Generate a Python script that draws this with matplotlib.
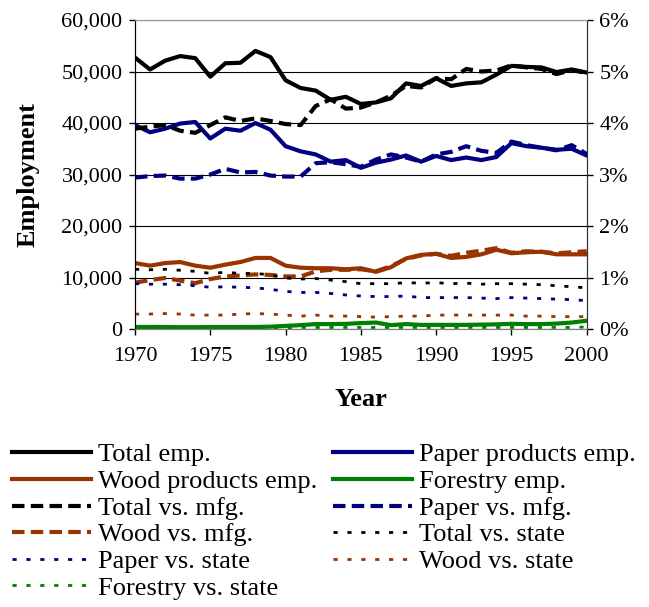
import numpy as np
import matplotlib
matplotlib.use('Agg')
import matplotlib.pyplot as plt
from matplotlib.ticker import FuncFormatter

plt.rcParams['font.family'] = ['Liberation Serif', 'DejaVu Serif']

years = list(range(1970, 2001))

# employment (left axis)
total_emp = [52700, 50400, 52100, 53000, 52600, 49000, 51600, 51700, 54000, 52800,
             48300, 46800, 46300, 44500, 45100, 43700, 44000, 44800, 47700, 47200,
             48700, 47200, 47700, 47900, 49400, 51100, 50900, 50800, 49900, 50400, 49800]
paper_emp = [39600, 38200, 38900, 39900, 40200, 37000, 38900, 38500, 40000, 38700,
             35500, 34500, 33900, 32500, 32800, 31300, 32300, 32900, 33700, 32500,
             33600, 32800, 33300, 32800, 33400, 36100, 35500, 35200, 34800, 35000, 33700]
wood_emp = [12800, 12300, 12800, 13000, 12300, 11900, 12500, 13000, 13800, 13800,
            12300, 11900, 11800, 11800, 11600, 11800, 11100, 12000, 13700, 14400,
            14600, 13800, 14000, 14500, 15400, 14700, 14900, 15000, 14500, 14500, 14500]
forestry_emp = [400, 400, 380, 350, 350, 380, 380, 380, 400, 450,
                600, 750, 950, 950, 1000, 1150, 1250, 750, 950, 800,
                800, 800, 800, 850, 900, 1000, 950, 950, 1050, 1250, 1600]

# shares in percent (right axis)
total_vs_mfg = [3.89, 3.93, 3.96, 3.85, 3.81, 3.96, 4.11, 4.04, 4.09, 4.04,
                3.98, 3.96, 4.33, 4.46, 4.28, 4.30, 4.40, 4.53, 4.72, 4.69,
                4.87, 4.85, 5.05, 5.00, 5.02, 5.12, 5.08, 5.05, 4.95, 5.03, 4.97]
paper_vs_mfg = [2.94, 2.97, 2.98, 2.92, 2.92, 3.00, 3.11, 3.04, 3.05, 2.98,
                2.96, 2.96, 3.22, 3.24, 3.20, 3.15, 3.29, 3.39, 3.33, 3.25,
                3.39, 3.44, 3.55, 3.46, 3.42, 3.64, 3.57, 3.52, 3.47, 3.57, 3.40]
wood_vs_mfg = [0.90, 0.95, 0.99, 0.94, 0.89, 0.97, 1.02, 1.04, 1.06, 1.05,
               1.02, 1.02, 1.12, 1.15, 1.15, 1.16, 1.12, 1.22, 1.36, 1.43,
               1.46, 1.42, 1.48, 1.52, 1.57, 1.48, 1.51, 1.50, 1.47, 1.49, 1.51]
total_vs_state = [1.16, 1.15, 1.16, 1.14, 1.12, 1.08, 1.10, 1.08, 1.08, 1.05,
                  0.99, 0.97, 0.98, 0.95, 0.92, 0.88, 0.88, 0.88, 0.90, 0.89,
                  0.90, 0.88, 0.89, 0.87, 0.88, 0.88, 0.87, 0.86, 0.84, 0.82, 0.80]
paper_vs_state = [0.88, 0.87, 0.87, 0.86, 0.84, 0.81, 0.82, 0.81, 0.80, 0.77,
                  0.73, 0.71, 0.71, 0.69, 0.66, 0.64, 0.63, 0.63, 0.64, 0.61,
                  0.61, 0.61, 0.61, 0.60, 0.59, 0.61, 0.60, 0.59, 0.58, 0.57, 0.55]
wood_vs_state = [0.29, 0.29, 0.30, 0.29, 0.27, 0.27, 0.27, 0.29, 0.30, 0.29,
                 0.27, 0.25, 0.27, 0.25, 0.25, 0.24, 0.23, 0.24, 0.25, 0.25,
                 0.27, 0.27, 0.27, 0.27, 0.27, 0.27, 0.25, 0.25, 0.24, 0.24, 0.24]
forestry_vs_state = [0.02, 0.02, 0.02, 0.02, 0.02, 0.02, 0.02, 0.02, 0.02, 0.02,
                     0.02, 0.03, 0.03, 0.03, 0.03, 0.03, 0.03, 0.03, 0.03, 0.03,
                     0.03, 0.03, 0.03, 0.03, 0.03, 0.03, 0.03, 0.03, 0.03, 0.03, 0.04]

BLACK = '#000000'
NAVY = '#000080'
BROWN = '#993300'
GREEN = '#008000'

fig = plt.figure(figsize=(6.49, 6.07), dpi=100)
ax = fig.add_axes([0.208, 0.458, 0.696, 0.509])
ax2 = ax.twinx()

lw = 3.0
h = {}
h['Total emp.'], = ax.plot(years, total_emp, color=BLACK, lw=lw)
h['Paper products emp.'], = ax.plot(years, paper_emp, color=NAVY, lw=lw)
h['Wood products emp.'], = ax.plot(years, wood_emp, color=BROWN, lw=lw)
h['Forestry emp.'], = ax.plot(years, forestry_emp, color=GREEN, lw=lw)

dash = (0, (3, 1.5))
dot = (0, (1.5, 3.5))
h['Total vs. mfg.'], = ax2.plot(years, total_vs_mfg, color=BLACK, lw=lw, linestyle=dash)
h['Paper vs. mfg.'], = ax2.plot(years, paper_vs_mfg, color=NAVY, lw=lw, linestyle=dash)
h['Wood vs. mfg.'], = ax2.plot(years, wood_vs_mfg, color=BROWN, lw=lw, linestyle=dash)
h['Total vs. state'], = ax2.plot(years, total_vs_state, color=BLACK, lw=2, linestyle=dot)
h['Paper vs. state'], = ax2.plot(years, paper_vs_state, color=NAVY, lw=2, linestyle=dot)
h['Wood vs. state'], = ax2.plot(years, wood_vs_state, color=BROWN, lw=2, linestyle=dot)
h['Forestry vs. state'], = ax2.plot(years, forestry_vs_state, color=GREEN, lw=2, linestyle=dot)

ax.set_xlim(1970, 2000)
ax.set_ylim(0, 60000)
ax2.set_ylim(0, 6)
ax.set_xticks(range(1970, 2001, 5))
ax.set_yticks(range(0, 60001, 10000))
ax2.set_yticks(range(0, 7))
ax.yaxis.set_major_formatter(FuncFormatter(lambda v, p: '{:,.0f}'.format(v)))
ax2.yaxis.set_major_formatter(FuncFormatter(lambda v, p: '%d%%' % v))
ax.grid(axis='y', color='black', lw=0.8)
ax.set_axisbelow(True)

for a in (ax, ax2):
    a.tick_params(labelsize=16, length=4, width=1, direction='out')
    a.tick_params(axis='y', pad=5)
    a.spines['top'].set_color('#999999')
    a.spines['bottom'].set_color('#808080')
    a.spines['left'].set_color('black')
    a.spines['right'].set_color('#333333')
ax.tick_params(axis='x', pad=9)

ax.set_ylabel('Employment', fontsize=19, fontweight='bold', labelpad=16)
ax.set_xlabel('Year', fontsize=19, fontweight='bold', labelpad=16)

order = ['Total emp.', 'Paper products emp.', 'Wood products emp.', 'Forestry emp.',
         'Total vs. mfg.', 'Paper vs. mfg.', 'Wood vs. mfg.', 'Total vs. state',
         'Paper vs. state', 'Wood vs. state', 'Forestry vs. state']
# legend is filled column by column, so put left-column items first
col1 = order[0::2]
col2 = order[1::2]
labels = col1 + col2
fig.legend([h[k] for k in labels], labels, loc='upper left',
           bbox_to_anchor=(12 / 649, 1 - 443 / 607), ncol=2, frameon=False,
           fontsize=19, handlelength=3.0, handletextpad=0.25, columnspacing=0.6,
           labelspacing=0.12, borderpad=0, borderaxespad=0)

fig.savefig('out.png', dpi=100)
